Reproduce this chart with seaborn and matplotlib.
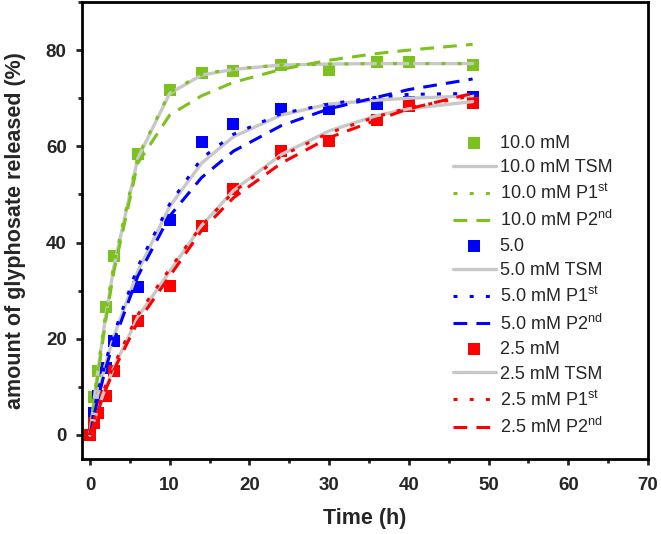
import matplotlib
matplotlib.use("Agg")
import matplotlib.pyplot as plt
import seaborn as sns
from matplotlib.ticker import MultipleLocator

# sampling times (h)
time_h = [0, 0.5, 1, 2, 3, 6, 10, 14, 18, 24, 30, 36, 40, 48]

# measured release (%)
exp_10 = [0, 7.8, 13.3, 26.5, 37.3, 58.3, 71.7, 75.3, 75.7, 76.9, 75.8, 77.6, 77.5, 76.9]
exp_5 = [0, 4.5, 8.0, 14.0, 19.5, 30.8, 44.6, 60.9, 64.6, 67.7, 67.7, 68.9, 69.3, 70.3]
exp_25 = [0, 2.5, 4.5, 8.0, 13.3, 23.7, 31.0, 43.5, 51.2, 59.0, 61.2, 65.4, 68.3, 69.0]

# model curves
tsm_10 = [0, 7.0, 13.5, 25.0, 35.0, 57.5, 71.0, 74.8, 76.0, 76.9, 77.1, 77.2, 77.2, 77.2]
p1_10 = [0, 7.2, 13.8, 25.5, 35.5, 57.8, 71.2, 75.0, 76.1, 76.9, 77.1, 77.2, 77.2, 77.2]
p2_10 = [0, 6.5, 12.5, 24.0, 34.0, 56.5, 66.5, 70.5, 73.3, 76.0, 77.9, 79.3, 80.0, 81.2]

tsm_5 = [0, 4.5, 8.5, 15.0, 20.5, 34.0, 47.5, 56.5, 62.0, 66.5, 68.8, 69.6, 70.0, 70.5]
p1_5 = [0, 5.0, 9.0, 15.5, 21.0, 35.0, 48.0, 57.5, 62.5, 66.8, 68.8, 70.2, 70.8, 71.0]
p2_5 = [0, 4.0, 7.5, 14.0, 19.5, 33.0, 45.5, 53.5, 59.0, 64.3, 67.8, 70.2, 71.8, 74.0]

tsm_25 = [0, 3.0, 5.5, 10.0, 14.0, 24.5, 34.0, 43.5, 50.8, 58.3, 63.2, 66.4, 67.8, 69.3]
p1_25 = [0, 3.0, 5.8, 10.5, 14.5, 25.0, 34.5, 43.5, 50.5, 58.0, 62.8, 66.2, 68.0, 70.5]
p2_25 = [0, 2.5, 5.0, 9.5, 13.5, 23.5, 33.0, 42.5, 49.3, 56.5, 61.8, 65.5, 67.8, 71.0]

names = ["10.0 mM", "5.0", "2.5 mM"]
prefixes = ["10.0 mM", "5.0 mM", "2.5 mM"]
colors = ["#7cc21c", "#0000ff", "#ff0000"]
grey = "#c8c8c8"

sns.set_style("ticks")
plt.rcParams["font.family"] = ["Liberation Sans", "DejaVu Sans"]
plt.rcParams["mathtext.fontset"] = "custom"
plt.rcParams["mathtext.rm"] = "Liberation Sans"

fig = plt.figure(figsize=(6.61, 5.34), dpi=100)
ax = fig.add_axes([82 / 661, 1 - 459 / 534, 566 / 661, 457 / 534])

groups = [
    (exp_10, tsm_10, p1_10, p2_10),
    (exp_5, tsm_5, p1_5, p2_5),
    (exp_25, tsm_25, p1_25, p2_25),
]

for (ex, tsm, p1, p2), nm, pre, col in zip(groups, names, prefixes, colors):
    sns.scatterplot(x=time_h, y=ex, marker="s", s=64, color=col, linewidth=0,
                    label=nm, ax=ax, zorder=2)
    sns.lineplot(x=time_h, y=tsm, color=grey, lw=2.4, label=pre + " TSM",
                 ax=ax, zorder=3, sort=False, estimator=None)
    sns.lineplot(x=time_h, y=p1, color=col, lw=2.2, linestyle=(0, (1.3, 4)),
                 label=pre + r" P1$^{\mathrm{st}}$", ax=ax, zorder=4,
                 sort=False, estimator=None)
    sns.lineplot(x=time_h, y=p2, color=col, lw=2.2, linestyle=(0, (4.5, 3)),
                 label=pre + r" P2$^{\mathrm{nd}}$", ax=ax, zorder=4,
                 sort=False, estimator=None)

ax.set_xlim(-1, 70)
ax.set_ylim(-5, 90)
ax.xaxis.set_major_locator(MultipleLocator(10))
ax.xaxis.set_minor_locator(MultipleLocator(5))
ax.yaxis.set_major_locator(MultipleLocator(20))
ax.yaxis.set_minor_locator(MultipleLocator(10))
ax.tick_params(which="major", direction="out", length=4, width=2, labelsize=13.5)
ax.tick_params(which="minor", direction="out", length=3, width=2)
ax.tick_params(axis="x", which="major", pad=9)
ax.tick_params(axis="y", which="major", pad=7)
for lab in ax.get_xticklabels() + ax.get_yticklabels():
    lab.set_fontweight("bold")
for sp in ax.spines.values():
    sp.set_linewidth(2)
    sp.set_color("black")

ax.set_xlabel("Time (h)", fontsize=15.5, fontweight="bold", labelpad=10)
ax.set_ylabel("amount of glyphosate released (%)", fontsize=15.5,
              fontweight="bold", labelpad=14)

ax.legend(loc="upper left", bbox_to_anchor=(0.655, 0.71), frameon=False,
          fontsize=13, borderpad=0, borderaxespad=0, labelspacing=0.41,
          handlelength=2.4, handletextpad=0.2)

fig.savefig("out.png", dpi=100)
